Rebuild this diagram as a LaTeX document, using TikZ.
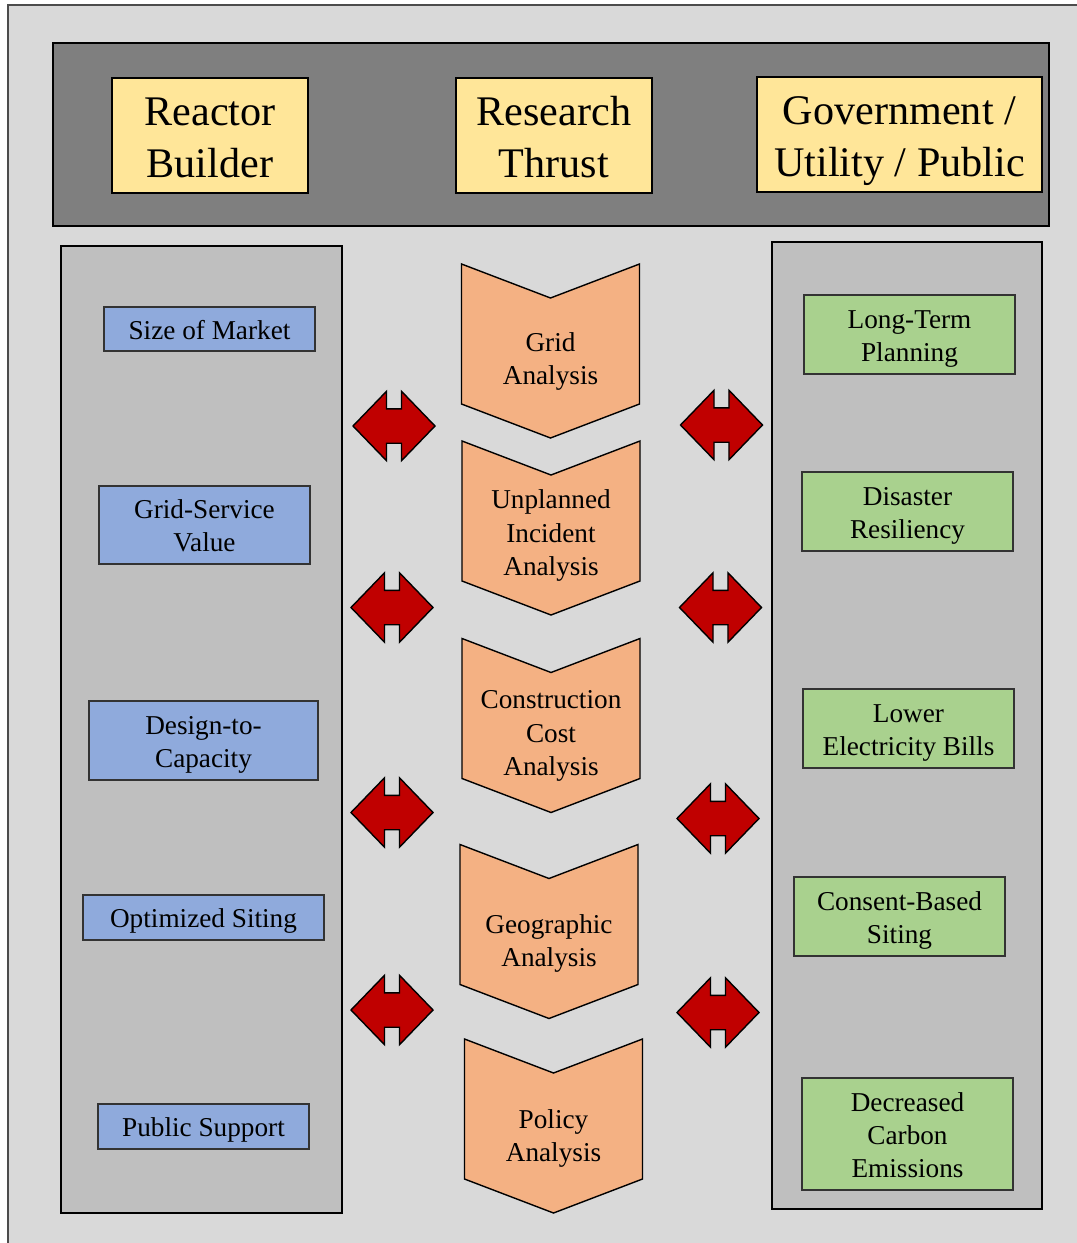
\documentclass[tikz,border=0pt]{standalone}
\usepackage{fontspec}
\setmainfont{Liberation Serif}
\usepackage{tikz}
\usetikzlibrary{shapes.arrows}

\definecolor{bggray}{HTML}{D9D9D9}
\definecolor{headgray}{HTML}{7F7F7F}
\definecolor{panelgray}{HTML}{BFBFBF}
\definecolor{titleyellow}{HTML}{FFE699}
\definecolor{builderblue}{HTML}{8FAADC}
\definecolor{publicgreen}{HTML}{A9D18E}
\definecolor{thrustorange}{HTML}{F4B183}
\definecolor{linkred}{HTML}{C00000}

\def\px{0.02cm}
% centred lines, with a fixed top so every box sits alike
\newcommand{\boxlines}[2][1.1]{\begin{tabular}{@{}c@{}}\rule{0pt}{#1em}#2\end{tabular}}

\tikzset{
  title/.style = {draw, line width=0.6pt, fill=titleyellow, inner sep=0pt,
    minimum height=115*\px, font=\fontsize{24}{29.6}\selectfont},
  panel/.style = {draw, line width=1.1pt, fill=panelgray, inner sep=0pt},
  box/.style = {draw=black!80, line width=0.6pt, inner sep=0pt,
    font=\fontsize{15.5}{18.8}\selectfont},
  builder/.style = {box, fill=builderblue},
  public/.style = {box, fill=publicgreen},
  chevron/.style = {draw, line width=0.8pt, fill=thrustorange},
  thrust/.style = {inner sep=0pt, font=\fontsize{15.5}{18.8}\selectfont},
  link/.style = {double arrow, draw, line width=0.8pt, fill=linkred,
    inner xsep=0pt, inner ysep=16.5*\px,
    minimum height=82*\px, minimum width=68*\px,
    double arrow head extend=17.5*\px, double arrow tip angle=92}
}

\begin{document}
\begin{tikzpicture}[x=0.02cm, y=-0.02cm]
  \useasboundingbox (0,0) rectangle (1077,1243);
  \clip (0,0) rectangle (1077,1243);
  \fill[white] (0,0) rectangle (1077,1243);
  \draw[line width=1.1pt, draw=black!70, fill=bggray] (8,5) rectangle (1120,1280);

  % header band
  \node[panel, fill=headgray, minimum width=996*\px, minimum height=183*\px] (head) at (551,134.5) {};
  \node[title, minimum width=196*\px] (builder) at (210,135.5) {\boxlines[1.12]{Reactor\\Builder}};
  \node[title, minimum width=196*\px] (thrust) at (554,135.5) {\boxlines[1.12]{Research\\Thrust}};
  \node[title, minimum width=285*\px] (public) at (899.5,134.5) {\boxlines[1.12]{Government /\\Utility / Public}};

  % side columns
  \node[panel, minimum width=281*\px, minimum height=967*\px] (left) at (201.5,729.5) {};
  \node[panel, minimum width=270*\px, minimum height=967*\px] (right) at (907,725.5) {};

  \foreach \n/\x/\y/\w/\h/\txt in {mkt/209.5/329/211/44/Size of Market,
      svc/204.5/525/211/78/Grid-Service\\Value,
      dtc/203.5/740.5/229/79/Design-to-\\Capacity,
      siting/203.5/917.5/241/45/Optimized Siting,
      support/203.5/1126.5/211/45/Public Support}
    \node[builder, minimum width=\w*\px, minimum height=\h*\px] (\n) at (\x,\y) {\boxlines{\txt}};

  \foreach \n/\x/\y/\w/\h/\txt in {plan/909.5/334.5/211/79/Long-Term\\Planning,
      resil/907.5/511.5/211/79/Disaster\\Resiliency,
      bills/908.5/728.5/211/79/Lower\\Electricity Bills,
      consent/899.5/916.5/211/79/Consent-Based\\Siting,
      carbon/907.5/1134/211/112/Decreased\\Carbon\\Emissions}
    \node[public, minimum width=\w*\px, minimum height=\h*\px] (\n) at (\x,\y) {\boxlines{\txt}};

  % research thrust chevrons
  \foreach \n/\x/\y/\ty/\txt in {ga/550.5/351/357.5/Grid\\Analysis,
      uia/551/528/532/Unplanned\\Incident\\Analysis,
      cca/551/725.5/732/Construction\\Cost\\Analysis,
      geo/549/931.5/939.5/Geographic\\Analysis,
      pol/553.5/1126/1134.5/Policy\\Analysis}
  {
    \draw[chevron, shift={(\x,\y)}] (-89,-87) -- (0,-53) -- (89,-87) -- (89,53) -- (0,87) -- (-89,53) -- cycle;
    \node[thrust] (\n) at (\x,\ty) {\boxlines{\txt}};
  }

  % two-way links
  \foreach \n/\x/\y in {l1/394/426, l2/392/607.5, l3/392/812.5, l4/392/1010,
      r1/721.5/425, r2/720.5/607.5, r3/718/818.5, r4/718/1012.5}
    \node[link] (\n) at (\x,\y) {};
\end{tikzpicture}
\end{document}
